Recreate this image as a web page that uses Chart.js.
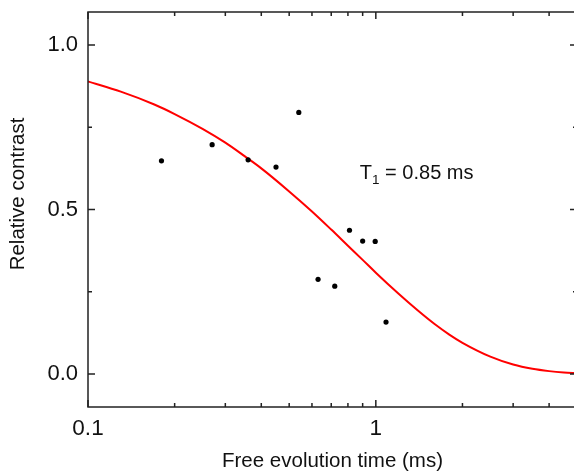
<!DOCTYPE html>
<html>
<head>
<meta charset="utf-8">
<script src="https://cdn.jsdelivr.net/npm/chart.js@4"></script>
<style>
  html, body { margin: 0; padding: 0; background: #fff; overflow: hidden; }
  #wrap { width: 584px; height: 472px; }
</style>
</head>
<body>
<div id="wrap"><canvas id="chart1" width="584" height="472"></canvas></div>
<script>
// measured points (free evolution time in ms, relative contrast)
var tijd = [0.18, 0.27, 0.36, 0.45, 0.54, 0.63, 0.72, 0.81, 0.90, 0.995, 1.085];
var contrast = [0.648, 0.697, 0.651, 0.629, 0.795, 0.288, 0.267, 0.437, 0.404, 0.403, 0.158];

// fit curve
var fitT = [0.1, 0.13, 0.17, 0.2, 0.25, 0.3, 0.35, 0.4, 0.5, 0.6, 0.7, 0.8, 0.9, 1.0, 1.2, 1.4, 1.6, 1.8, 2.0, 2.5, 3.0, 3.5, 4.0, 4.5, 5.0];
var fitY = [0.889, 0.858, 0.819, 0.790, 0.745, 0.703, 0.662, 0.625, 0.555, 0.494, 0.439, 0.390, 0.347, 0.308, 0.244, 0.193, 0.152, 0.120, 0.095, 0.053, 0.029, 0.016, 0.009, 0.005, 0.003];

// axis ticks
var xMajor = [0.1, 1];
var xLabels = ['0.1', '1'];
var xMinor = [0.2, 0.3, 0.4, 0.5, 0.6, 0.7, 0.8, 0.9, 2, 3, 4];
var yMajor = [0, 0.5, 1];
var yLabels = ['0.0', '0.5', '1.0'];
var yMinor = [0.25, 0.75];

var fontti = "'Liberation Sans', Arial, sans-serif";
var akseli = '#222';

function pisteet(xs, ys) {
    var out = [];
    for (let i = 0; i < xs.length; i++) out.push({ x: xs[i], y: ys[i] });
    return out;
}

// frame, inward ticks on all four sides, y title and the T1 note
var kehys = {
    id: 'kehys',
    afterDatasetsDraw: function (chart) {
        var ctx = chart.ctx;
        var a = chart.chartArea;
        var sx = chart.scales.x;
        var sy = chart.scales.y;
        ctx.save();
        ctx.strokeStyle = akseli;
        ctx.lineWidth = 1.5;
        ctx.strokeRect(a.left, a.top, a.right - a.left, a.bottom - a.top);
        ctx.beginPath();
        function xtick(v, len) {
            var px = sx.getPixelForValue(v);
            ctx.moveTo(px, a.bottom); ctx.lineTo(px, a.bottom - len);
            ctx.moveTo(px, a.top); ctx.lineTo(px, a.top + len);
        }
        function ytick(v, len) {
            var py = sy.getPixelForValue(v);
            ctx.moveTo(a.left, py); ctx.lineTo(a.left + len, py);
            ctx.moveTo(a.right, py); ctx.lineTo(a.right - len, py);
        }
        xMajor.forEach(function (v) { xtick(v, 7); });
        xMinor.forEach(function (v) { xtick(v, 4); });
        yMajor.forEach(function (v) { ytick(v, 7); });
        yMinor.forEach(function (v) { ytick(v, 4); });
        ctx.stroke();

        // y title, sits a bit above the middle in the original
        ctx.fillStyle = '#111';
        ctx.save();
        ctx.translate(18.5, 194);
        ctx.rotate(-Math.PI / 2);
        ctx.textAlign = 'center';
        ctx.textBaseline = 'middle';
        ctx.font = '20.5px ' + fontti;
        ctx.fillText('Relative contrast', 0, 0);
        ctx.restore();

        // T1 = 0.85 ms
        var tx = sx.getPixelForValue(0.88);
        var ty = sy.getPixelForValue(0.61);
        ctx.textBaseline = 'middle';
        ctx.textAlign = 'left';
        ctx.font = '20px ' + fontti;
        ctx.fillText('T', tx, ty);
        var w = ctx.measureText('T').width;
        ctx.font = '13.5px ' + fontti;
        ctx.fillText('1', tx + w, ty + 7);
        var w2 = ctx.measureText('1').width;
        ctx.font = '20px ' + fontti;
        ctx.fillText(' = 0.85 ms', tx + w + w2, ty);
        ctx.restore();
    }
};

var chart1 = document.getElementById('chart1');
new Chart(chart1, {
    data: {
        datasets: [{
            type: 'scatter',
            label: 'data',
            data: pisteet(tijd, contrast),
            pointRadius: 2.6,
            pointBackgroundColor: '#000',
            pointBorderWidth: 0
        }, {
            type: 'line',
            label: 'fit',
            data: pisteet(fitT, fitY),
            borderColor: '#ff0000',
            borderWidth: 2,
            pointRadius: 0,
            fill: false,
            cubicInterpolationMode: 'monotone'
        }]
    },
    options: {
        responsive: false,
        animation: false,
        layout: { padding: { top: 12, right: 7, left: 0, bottom: 0 } },
        plugins: { legend: { display: false }, tooltip: { enabled: false } },
        scales: {
            x: {
                type: 'logarithmic',
                min: 0.1,
                max: 5,
                grid: { display: false, drawTicks: false },
                border: { display: false },
                afterBuildTicks: function (s) { s.ticks = xMajor.map(function (v) { return { value: v }; }); },
                afterFit: function (s) { s.height = 65; s.paddingLeft = 0; s.paddingRight = 0; },
                ticks: {
                    padding: 8,
                    color: '#111',
                    font: { family: fontti, size: 22.5 },
                    maxRotation: 0,
                    autoSkip: false,
                    callback: function (v) { return xLabels[xMajor.indexOf(v)]; }
                },
                title: {
                    display: true,
                    text: 'Free evolution time (ms)',
                    color: '#111',
                    font: { family: fontti, size: 20.5 },
                    padding: { top: 0, bottom: -2 }
                }
            },
            y: {
                min: -0.1,
                max: 1.1,
                grid: { display: false, drawTicks: false },
                border: { display: false },
                afterBuildTicks: function (s) { s.ticks = yMajor.map(function (v) { return { value: v }; }); },
                afterFit: function (s) { s.width = 88; s.paddingTop = 0; s.paddingBottom = 0; },
                ticks: {
                    padding: 10,
                    color: '#111',
                    font: { family: fontti, size: 22 },
                    callback: function (v) { return yLabels[yMajor.indexOf(v)]; }
                }
            }
        }
    },
    plugins: [kehys]
});
</script>
</body>
</html>
